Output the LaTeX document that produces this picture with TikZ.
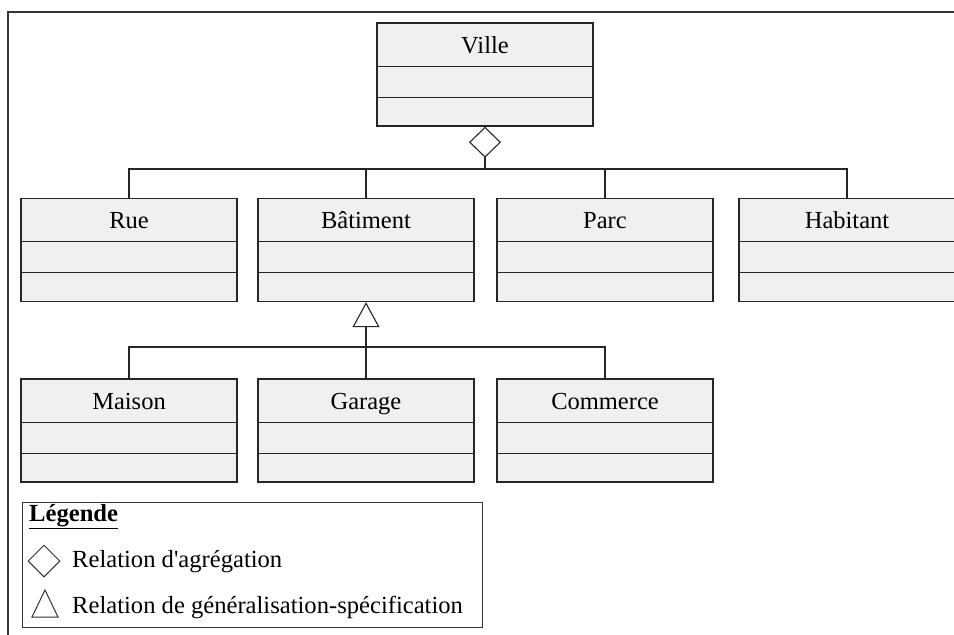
\documentclass[tikz,border=0pt]{standalone}
\usepackage{fontspec}
\setmainfont{Liberation Serif}
\usetikzlibrary{arrows.meta,shapes.geometric}

\newcommand{\BoxWidth}{216}
\newcommand{\BoxHeight}{103}
\newcommand{\HeadDepth}{44}
\newcommand{\AttrDepth}{75}

% one class box: name, x, y, label
\newcommand{\UMLclasse}[4]{%
        \node[classbox] (#1) at (#2,#3) {};
        \node[classname] (#1-nom) at ([yshift=-31pt]#1.north) {#4};
        \draw[boxline] ([yshift=-\HeadDepth pt]#1.north west) -- ([yshift=-\HeadDepth pt]#1.north east);
        \draw[boxline] ([yshift=-\AttrDepth pt]#1.north west) -- ([yshift=-\AttrDepth pt]#1.north east);
}

\tikzset{
        classbox/.style={draw=black!85, fill=gray!12, line width=1.4pt, minimum width=\BoxWidth, minimum height=\BoxHeight, inner sep=0pt},
        classname/.style={font=\fontsize{24.5}{28}\selectfont, inner sep=0pt, anchor=base},
        boxline/.style={draw=black!85, line width=1.3pt},
        link/.style={draw=black!85, line width=1.1pt},
        legendtext/.style={font=\fontsize{24.6}{28}\selectfont, inner sep=0pt, anchor=base west}
}

\begin{document}
\begin{tikzpicture}[x=1pt,y=-1pt]
        \useasboundingbox (0,0) rectangle (954,635);

        \draw[line width=1.2pt, black!80] (8,635) -- (8,12) -- (954,12);% Frame

        \UMLclasse{ville}{485}{74.5}{Ville}
        \UMLclasse{rue}{129}{250}{Rue}
        \UMLclasse{batiment}{366}{250}{Bâtiment}
        \UMLclasse{parc}{605}{250}{Parc}
        \UMLclasse{habitant}{847}{250}{Habitant}
        \UMLclasse{maison}{129}{430.5}{Maison}
        \UMLclasse{garage}{366}{430.5}{Garage}
        \UMLclasse{commerce}{605}{430.5}{Commerce}

        % aggregation
        \coordinate (bus1) at (485,169);
        \draw[link, -{Diamond[open, length=31pt, width=32pt]}] (bus1) -- (ville.south);
        \draw[link] (rue.north) |- (bus1) -| (habitant.north);
        \draw[link] (batiment.north) -- (batiment.north |- bus1);
        \draw[link] (parc.north) -- (parc.north |- bus1);

        % generalisation
        \coordinate (bus2) at (366,347);
        \draw[link, -{Triangle[open, length=25pt, width=27pt]}] (garage.north) -- (batiment.south);
        \draw[link] (maison.north) |- (bus2) -| (commerce.north);

        % legend
        \draw[line width=1pt, black!80] (22,502) rectangle (482,627);
        \node[legendtext, font=\fontsize{24.6}{28}\selectfont\bfseries] (legende) at (29,521) {\underline{Légende}};
        \node[draw=black!80, line width=1pt, diamond, minimum width=32, minimum height=32, inner sep=0pt] (leg-agg) at (44,561) {};
        \draw[line width=1pt, black!80] (32,617) -- (45,590) -- (58,617) -- cycle;% legend triangle
        \node[legendtext] (leg-agg-txt) at (72,567) {Relation d\textquotesingle agrégation};
        \node[legendtext] (leg-gen-txt) at (72,613) {Relation de généralisation-spécification};
\end{tikzpicture}
\end{document}
